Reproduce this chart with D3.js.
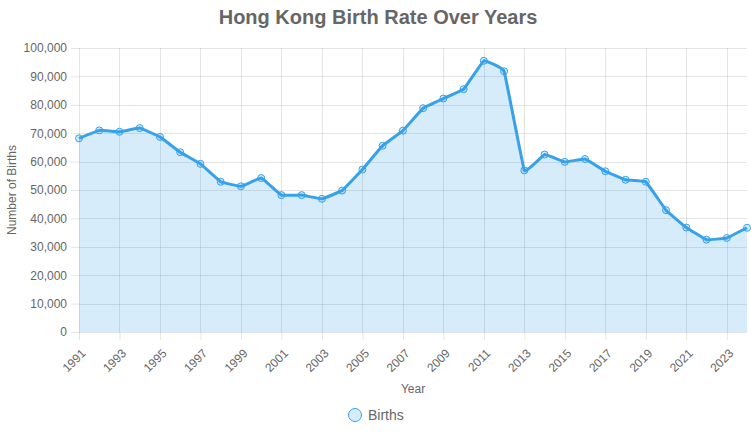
<!DOCTYPE html>
<html>
<head>
<meta charset="utf-8">
<script src="https://cdn.jsdelivr.net/npm/d3@7"></script>
<style>
  body { margin: 0; background: #fff; font-family: "Liberation Sans", Arial, sans-serif; }
  .grid line { stroke: rgba(0,0,0,0.1); }
  .axis text { fill: #666; font-size: 12px; }
  .axis path { display: none; }
  .axis line { stroke: rgba(0,0,0,0.1); }
</style>
</head>
<body>
<div id="chart"></div>
<script>
// data
var years = [1991, 1992, 1993, 1994, 1995, 1996, 1997, 1998, 1999, 2000,
             2001, 2002, 2003, 2004, 2005, 2006, 2007, 2008, 2009, 2010,
             2011, 2012, 2013, 2014, 2015, 2016, 2017, 2018, 2019, 2020,
             2021, 2022, 2023, 2024];
var births = [68200, 71000, 70500, 71800, 68700, 63300, 59200, 52900, 51300, 54200,
              48200, 48200, 46900, 49800, 57200, 65600, 70900, 78800, 82200, 85500,
              95500, 91800, 56900, 62500, 59900, 60900, 56600, 53600, 52900, 42900,
              36800, 32500, 33100, 36700];
var yTicks = [0, 10000, 20000, 30000, 40000, 50000, 60000, 70000, 80000, 90000, 100000];
var xTicks = [1991, 1993, 1995, 1997, 1999, 2001, 2003, 2005, 2007, 2009, 2011,
              2013, 2015, 2017, 2019, 2021, 2023];

var W = 751, H = 433;
var margin = {top: 48, right: 4, bottom: 101, left: 79},
    width = W - margin.left - margin.right,
    height = H - margin.top - margin.bottom;

var data = years.map(function(y, i) { return {year: y, value: births[i]}; });

var x = d3.scaleLinear().domain([1991, 2024]).range([0, width]);
var y = d3.scaleLinear().domain([0, 100000]).range([height, 0]);

var svg = d3.select("#chart").append("svg")
    .attr("width", W)
    .attr("height", H);

svg.append("text")
    .attr("x", 378)
    .attr("y", 24)
    .attr("text-anchor", "middle")
    .style("font-size", "20px")
    .style("font-weight", "bold")
    .style("fill", "#666")
    .text("Hong Kong Birth Rate Over Years");

var g = svg.append("g")
    .attr("transform", "translate(" + margin.left + "," + margin.top + ")");

// gridlines
g.append("g").attr("class", "grid")
  .selectAll("line").data(yTicks).enter().append("line")
    .attr("x1", 0).attr("x2", width)
    .attr("y1", function(d) { return Math.round(y(d)) + 0.5; })
    .attr("y2", function(d) { return Math.round(y(d)) + 0.5; });

g.append("g").attr("class", "grid")
  .selectAll("line").data(xTicks).enter().append("line")
    .attr("y1", 0).attr("y2", height)
    .attr("x1", function(d) { return Math.round(x(d)) + 0.5; })
    .attr("x2", function(d) { return Math.round(x(d)) + 0.5; });

// axes
var yAxis = d3.axisLeft(y).tickValues(yTicks).tickSize(8).tickPadding(4)
    .tickFormat(d3.format(","));
g.append("g").attr("class", "axis").call(yAxis);

var xAxis = d3.axisBottom(x).tickValues(xTicks).tickSize(8).tickPadding(4)
    .tickFormat(d3.format("d"));
var xg = g.append("g").attr("class", "axis")
    .attr("transform", "translate(0," + height + ")")
    .call(xAxis);
xg.selectAll("text")
    .style("text-anchor", "end")
    .attr("x", 0)
    .attr("y", 0)
    .attr("dy", "0.35em")
    .attr("transform", "translate(4,19) rotate(-45)");

// area + line
var curve = d3.curveCardinal.tension(0.8);
var area = d3.area()
    .x(function(d) { return x(d.year); })
    .y0(height)
    .y1(function(d) { return y(d.value); })
    .curve(curve);
var line = d3.line()
    .x(function(d) { return x(d.year); })
    .y(function(d) { return y(d.value); })
    .curve(curve);

g.append("path").datum(data)
    .attr("d", area)
    .attr("fill", "rgba(54,162,235,0.2)");

g.append("path").datum(data)
    .attr("d", line)
    .attr("fill", "none")
    .attr("stroke", "#36A2EB")
    .attr("stroke-width", 3);

g.selectAll(".dot").data(data).enter().append("circle")
    .attr("class", "dot")
    .attr("cx", function(d) { return x(d.year); })
    .attr("cy", function(d) { return y(d.value); })
    .attr("r", 3.5)
    .attr("fill", "rgba(54,162,235,0.2)")
    .attr("stroke", "#36A2EB")
    .attr("stroke-width", 1);

// axis titles
svg.append("text")
    .attr("transform", "translate(16," + (margin.top + height / 2) + ") rotate(-90)")
    .attr("text-anchor", "middle")
    .style("font-size", "12px")
    .style("fill", "#666")
    .text("Number of Births");

svg.append("text")
    .attr("x", margin.left + width / 2)
    .attr("y", 393)
    .attr("text-anchor", "middle")
    .style("font-size", "12px")
    .style("fill", "#666")
    .text("Year");

// legend
var lg = svg.append("g").attr("transform", "translate(355,415)");
lg.append("circle")
    .attr("r", 6.5)
    .attr("fill", "rgba(54,162,235,0.2)")
    .attr("stroke", "#36A2EB")
    .attr("stroke-width", 1);
lg.append("text")
    .attr("x", 13)
    .attr("dy", "0.35em")
    .style("font-size", "14px")
    .style("fill", "#666")
    .text("Births");
</script>
</body>
</html>
